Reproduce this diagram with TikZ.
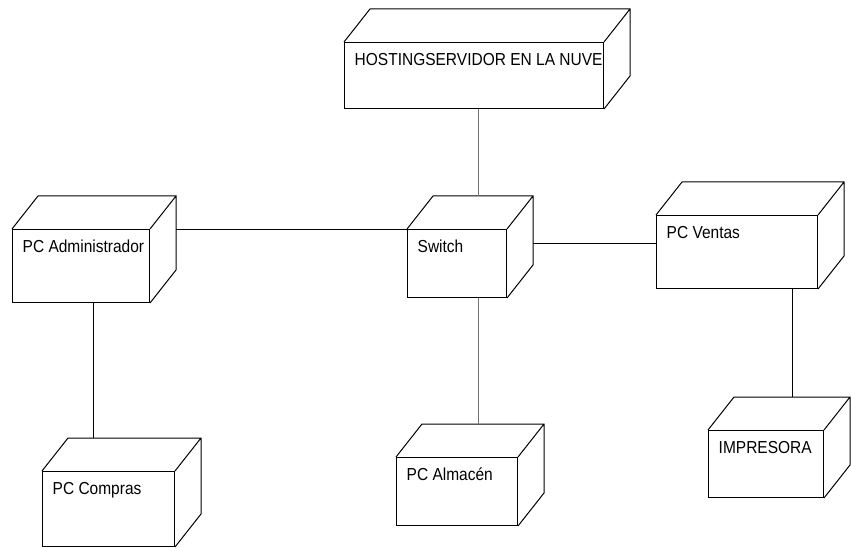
\documentclass[tikz,border=0pt]{standalone}
\usepackage{fontspec}
\setmainfont{Liberation Sans}
\usetikzlibrary{calc}

\begin{document}
\begin{tikzpicture}[x=1pt,y=-1pt,
  face/.style={draw,line width=1pt,inner sep=0pt,anchor=north west},
  depth/.style={line width=1pt,line join=miter},
  devlbl/.style={anchor=base west,inner sep=0pt,font=\fontsize{15.5}{18}\selectfont},
  link/.style={line width=1pt},
  lightlink/.style={line width=1pt,black!55}]
  \useasboundingbox (0,0) rectangle (851,548);
  \foreach \n/\x/\y/\w/\h/\t in {host/344/42/259/66/{HOSTINGSERVIDOR EN LA NUVE},
      adm/12/229/137/73/{PC Administrador},sw/407/229/99/68/{Switch},
      ven/656/215/161/73/{PC Ventas},comp/42/471/132/75/{PC Compras},
      alm/396/457/121/68/{PC Almacén},imp/708/430/115/67/{IMPRESORA}} {
    \node[face,minimum width=\w pt,minimum height=\h pt] (\n) at (\x,\y) {};
    \draw[depth] (\n.north west) -- ++(26,-33) -| ([shift={(26pt,33pt)}]\n.south east)
      -- (\n.south east) (\n.north east) -- ++(26,-33);
    \coordinate (\n-top) at ([yshift=33pt]\n.north);
    \coordinate (\n-back) at ([xshift=26pt]\n.east);
    \node[devlbl] (\n-lbl) at ([shift={(10.5pt,-23.5pt)}]\n.north west) {\scalebox{1}[1.12]{\t}};
  }
  \coordinate (hs) at ([xshift=4.5pt]host.south);
  \coordinate (ss) at ([xshift=21.5pt]sw.south);
  \coordinate (vw) at ([yshift=8.5pt]ven.west);
  \coordinate (as) at ([xshift=12.5pt]adm.south);
  \coordinate (vs) at ([xshift=55.5pt]ven.south);
  \draw[lightlink] (hs) -- (hs |- sw-top);
  \draw[lightlink] (ss) -- (ss |- alm-top);
  \draw[link] (sw.north west) -- (sw.north west -| adm-back);
  \draw[link] (vw) -- (vw -| sw-back);
  \draw[link] (as) -- (as |- comp-top);
  \draw[link] (vs) -- (vs |- imp-top);
\end{tikzpicture}
\end{document}
